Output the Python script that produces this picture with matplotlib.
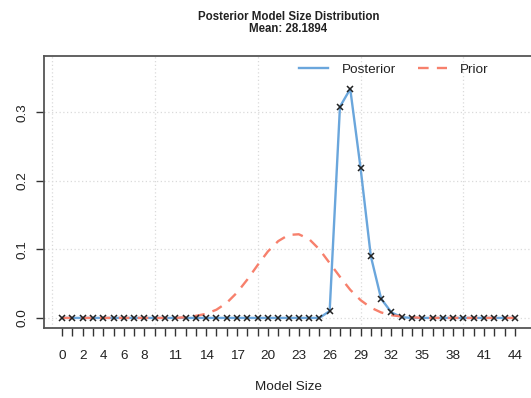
import matplotlib
matplotlib.use("Agg")
from matplotlib import pyplot as plt

plt.rcParams['font.family'] = ['Liberation Sans', 'DejaVu Sans']

# model sizes 0..44
model_size = list(range(45))

# posterior model size probabilities
posterior = [0.0] * 26 + [0.010, 0.308, 0.334, 0.219, 0.090, 0.028, 0.008, 0.001] + [0.0] * 11

# prior model size probabilities
prior = ([0.0] * 12 +
         [0.001, 0.003, 0.006, 0.012, 0.022, 0.037, 0.056, 0.077, 0.097, 0.112,
          0.121, 0.122, 0.115, 0.100, 0.080, 0.060, 0.041, 0.026, 0.015, 0.008,
          0.004, 0.002, 0.001] +
         [0.0] * 10)

tick_labels = [0, 2, 4, 6, 8, 11, 14, 17, 20, 23, 26, 29, 32, 35, 38, 41, 44]
y_ticks = [0.0, 0.1, 0.2, 0.3]
grid_x = [-1, 9, 19, 29, 39]

title = "Posterior Model Size Distribution"
subtitle = "Mean: 28.1894"

blue = "#6aa6dc"
red = "#f7806c"
box_col = "#555555"

W, H = 531, 398
fig = plt.figure(figsize=(W / 100, H / 100), dpi=100)
ax = fig.add_axes([44 / W, 1 - 328 / H, (533 - 44) / W, (328 - 56) / H])

# grid
for gx in grid_x:
    ax.axvline(gx, color="#dadada", lw=0.9, ls=(0, (1, 2)), zorder=0)
for gy in y_ticks:
    ax.axhline(gy, color="#dadada", lw=0.9, ls=(0, (1, 2)), zorder=0)

ax.plot(model_size, posterior, color=blue, lw=1.7, zorder=2, label="Posterior")
ax.plot(model_size, prior, color=red, lw=1.7, ls=(0, (4.5, 3.5)), zorder=3, label="Prior")
ax.plot(model_size, posterior, ls="none", marker="x", ms=3.8, mew=1.1,
        color="#222222", zorder=4)

ax.set_xlim(-1.76, 45.76)
ax.set_ylim(-0.0147, 0.382)

ax.set_xticks(model_size)
ax.set_xticklabels([str(v) if v in tick_labels else "" for v in model_size])
ax.set_yticks(y_ticks)
ax.set_yticklabels(["0.0", "0.1", "0.2", "0.3"], rotation=90, va="center")

ax.tick_params(axis="x", length=6, width=1.0, color="#333333", pad=9.5,
               labelsize=9.7, labelcolor="#222222")
ax.tick_params(axis="y", length=6, width=1.0, color="#333333", pad=5.5,
               labelsize=9.7, labelcolor="#222222")

for sp in ax.spines.values():
    sp.set_color(box_col)
    sp.set_linewidth(1.3)

fig.text(288.5 / W, 1 - 16.5 / H, title, ha="center", va="center",
         fontsize=8.3, fontweight="bold", color="#222222")
fig.text(288.5 / W, 1 - 29.5 / H, subtitle, ha="center", va="center",
         fontsize=8.3, fontweight="bold", color="#222222")
fig.text(288.5 / W, 1 - 387 / H, "Model Size", ha="center", va="center",
         fontsize=9.7, color="#222222")

leg = ax.legend(loc="center", bbox_to_anchor=(394 / W, 1 - 69.5 / H),
                bbox_transform=fig.transFigure, ncol=2, frameon=False,
                fontsize=9.7, borderpad=0, handlelength=2.15,
                handletextpad=1.0, columnspacing=1.6)
for t in leg.get_texts():
    t.set_color("#222222")

fig.savefig("out.png", dpi=100)
